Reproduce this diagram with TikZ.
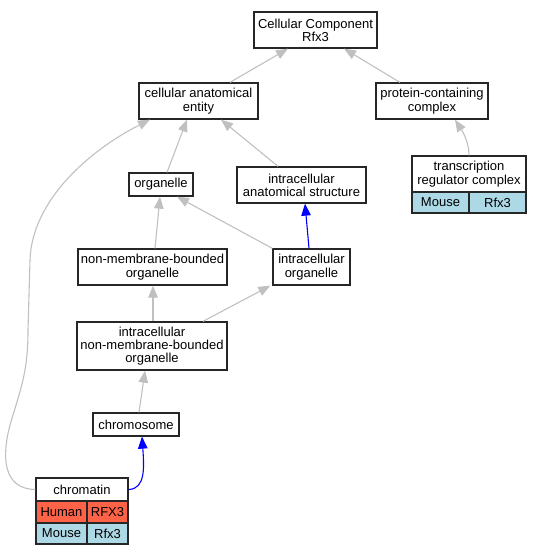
\documentclass[tikz,border=0pt]{standalone}
\usepackage{fontspec}
\setmainfont{Liberation Sans}
\usetikzlibrary{arrows.meta}
\definecolor{edgegray}{HTML}{C0C0C0}
\definecolor{humanred}{HTML}{FF6347}
\definecolor{mouseblue}{HTML}{ADD8E6}
\begin{document}
\begin{tikzpicture}[x=1pt,y=-1pt,
  box/.style={draw=black!85, line width=1.3pt, fill=white, inner sep=0pt, align=center,
    font=\fontsize{13}{13.3}\selectfont, anchor=center},
  isa/.style={draw=edgegray, line width=1.1pt, -{Triangle[length=12pt,width=9.5pt]}},
  partof/.style={draw=blue, line width=1.1pt, -{Triangle[length=12pt,width=9.5pt]}},
]
\useasboundingbox (0,0) rectangle (541,555);

% nodes
\node[box, minimum width=123pt, minimum height=36pt] (cc) at (315.5,30) {Cellular Component\\Rfx3};
\node[box, minimum width=119pt, minimum height=36pt] (cae) at (198.5,101) {cellular anatomical\\entity};
\node[box, minimum width=112pt, minimum height=36pt] (pcc) at (432,101) {protein-containing\\complex};
\node[box, minimum width=114pt, minimum height=36pt] (trc) at (469,174) {transcription\\regulator complex};
\node[box, fill=mouseblue, minimum width=57pt, minimum height=21pt] (trcm) at (440.5,202.5) {Mouse};
\node[box, fill=mouseblue, minimum width=57pt, minimum height=21pt] (trcg) at (497.5,202.5) {Rfx3};
\node[box, minimum width=64pt, minimum height=23pt] (org) at (161,184.5) {organelle};
\node[box, minimum width=129pt, minimum height=36pt] (ias) at (301.5,185) {intracellular\\anatomical structure};
\node[box, minimum width=149pt, minimum height=36pt] (nmbo) at (152.5,267) {non-membrane-bounded\\organelle};
\node[box, minimum width=77pt, minimum height=36pt] (io) at (311.5,267) {intracellular\\organelle};
\node[box, minimum width=150pt, minimum height=48pt] (inmbo) at (152,346) {intracellular\\non-membrane-bounded\\organelle};
\node[box, minimum width=86pt, minimum height=23pt] (chrom) at (136,424.5) {chromosome};
\node[box, minimum width=92pt, minimum height=23pt] (chromatin) at (82,489.5) {chromatin};
\node[box, fill=humanred, minimum width=51pt, minimum height=22pt] (chh) at (61.5,512) {Human};
\node[box, fill=humanred, minimum width=41pt, minimum height=22pt] (chhg) at (107.5,512) {RFX3};
\node[box, fill=mouseblue, minimum width=51pt, minimum height=21pt] (chm) at (61.5,533.5) {Mouse};
\node[box, fill=mouseblue, minimum width=41pt, minimum height=21pt] (chmg) at (107.5,533.5) {Rfx3};

% edges
\draw[isa] ([xshift=31.5pt]cae.north) -- ([xshift=-27.5pt]cc.south);
\draw[isa] ([xshift=-32pt]pcc.north) -- ([xshift=28.5pt]cc.south);
\draw[isa] (trc.north) .. controls ([yshift=14pt]trc.north) and ([xshift=30pt,yshift=-11pt]pcc.south) .. ([xshift=23pt]pcc.south);
\draw[isa] ([xshift=6pt]org.north) -- ([xshift=-11.5pt]cae.south);
\draw[isa] ([xshift=-23.5pt]ias.north) -- ([xshift=22.5pt]cae.south);
\draw[isa] (chromatin.west) .. controls (2,489) and (2,455) .. (10,425)
  .. controls (22,385) and (28,370) .. (28,330) -- (30,260)
  .. controls (32,200) and (90,150) .. ([xshift=-48.5pt]cae.south);
\draw[isa] ([xshift=2.5pt]nmbo.north) -- ([xshift=-1pt]org.south);
\draw[isa] (io.north west) -- ([xshift=16pt]org.south);
\draw[partof] ([xshift=-2.5pt]io.north) -- ([xshift=3.5pt]ias.south);
\draw[isa] ([xshift=1pt]inmbo.north) -- ([xshift=0.5pt]nmbo.south);
\draw[isa] ([xshift=51pt]inmbo.north) -- ([xshift=-2pt]io.south west);
\draw[isa] ([xshift=3pt]chrom.north) -- ([xshift=-7pt]inmbo.south);
\draw[partof] (chromatin.east) .. controls (146,489) and (144,466) .. ([xshift=6pt]chrom.south);
\end{tikzpicture}
\end{document}
